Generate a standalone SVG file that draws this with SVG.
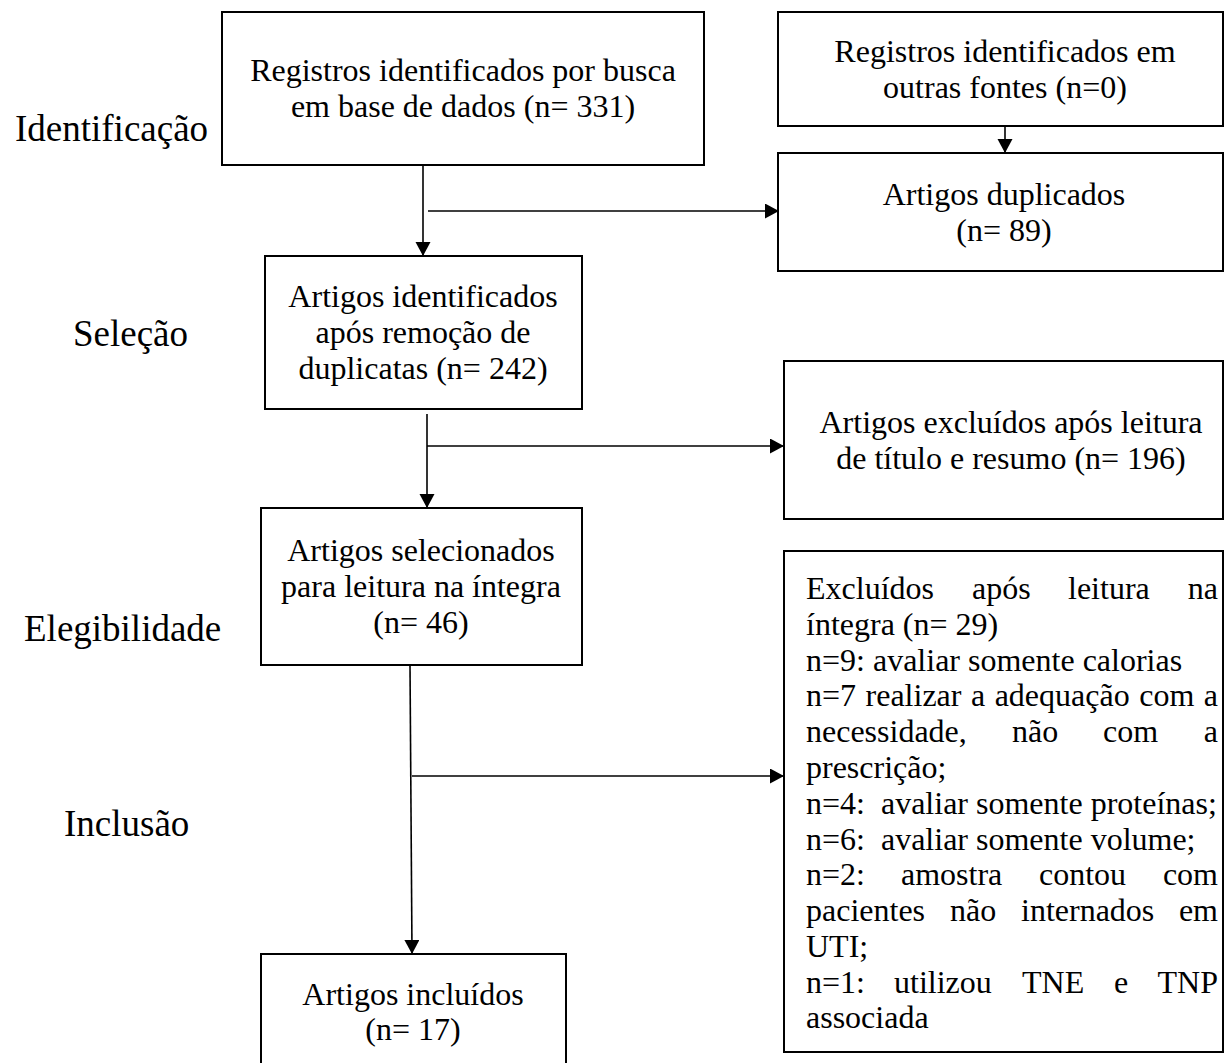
<svg xmlns="http://www.w3.org/2000/svg" width="1225" height="1063" viewBox="0 0 1225 1063">
<defs>
<marker id="ah" markerUnits="userSpaceOnUse" markerWidth="15" markerHeight="16" refX="14" refY="7.5" orient="auto">
<path d="M0,0 L14,7.5 L0,15 Z" fill="#000"/>
</marker>
<style>
.box{fill:#fff;stroke:#000;stroke-width:2}
.t{font-family:"Liberation Serif","Times New Roman",serif;font-size:32px;fill:#000}
.c{text-anchor:middle}
.e{text-anchor:end}
.lbl{font-family:"Liberation Serif","Times New Roman",serif;font-size:37px;fill:#000}
.con{fill:none;stroke:#000;stroke-width:1.6}
</style>
</defs>
<rect width="1225" height="1063" fill="#fff"/>
<g id="labels">
<text class="lbl" x="15" y="141">Identificação</text>
<text class="lbl" x="73" y="346">Seleção</text>
<text class="lbl" x="24" y="641">Elegibilidade</text>
<text class="lbl" x="64" y="836">Inclusão</text>
</g>
<g id="connectors">
<path class="con" d="M423,165 V256" marker-end="url(#ah)"/>
<path class="con" d="M428,211 H779" marker-end="url(#ah)"/>
<path class="con" d="M1005,126 V153" marker-end="url(#ah)"/>
<path class="con" d="M427,414 V508" marker-end="url(#ah)"/>
<path class="con" d="M427,446 H784" marker-end="url(#ah)"/>
<path class="con" d="M410,665 L412,954" marker-end="url(#ah)"/>
<path class="con" d="M412,776 H784" marker-end="url(#ah)"/>
</g>
<g id="n1">
<rect class="box" x="222" y="12" width="482" height="153"/>
<text class="t c" x="463" y="81">Registros identificados por busca</text>
<text class="t c" x="463" y="117">em base de dados (n= 331)</text>
</g>
<g id="n2">
<rect class="box" x="778" y="12" width="445" height="114"/>
<text class="t c" x="1005" y="62">Registros identificados em</text>
<text class="t c" x="1005" y="98">outras fontes (n=0)</text>
</g>
<g id="n3">
<rect class="box" x="778" y="153" width="445" height="118"/>
<text class="t c" x="1004" y="205">Artigos duplicados</text>
<text class="t c" x="1004" y="241">(n= 89)</text>
</g>
<g id="n4">
<rect class="box" x="265" y="256" width="317" height="153"/>
<text class="t c" x="423" y="307">Artigos identificados</text>
<text class="t c" x="423" y="343">após remoção de</text>
<text class="t c" x="423" y="379">duplicatas (n= 242)</text>
</g>
<g id="n5">
<rect class="box" x="784" y="361" width="439" height="158"/>
<text class="t c" x="1011" y="433">Artigos excluídos após leitura</text>
<text class="t c" x="1011" y="469">de título e resumo (n= 196)</text>
</g>
<g id="n6">
<rect class="box" x="261" y="508" width="321" height="157"/>
<text class="t c" x="421" y="561">Artigos selecionados</text>
<text class="t c" x="421" y="597">para leitura na íntegra</text>
<text class="t c" x="421" y="633">(n= 46)</text>
</g>
<g id="n7">
<rect class="box" x="784" y="551" width="439" height="501"/>
<text class="t" x="806" y="599">Excluídos</text>
<text class="t" x="972" y="599">após</text>
<text class="t" x="1068" y="599">leitura</text>
<text class="t e" x="1218" y="599">na</text>
<text class="t" x="806" y="635">íntegra (n= 29)</text>
<text class="t" x="806" y="671">n=9: avaliar somente calorias</text>
<text class="t" x="806" y="706" word-spacing="1.5">n=7 realizar a adequação com a</text>
<text class="t" x="806" y="742">necessidade,</text>
<text class="t" x="1012" y="742">não</text>
<text class="t" x="1103" y="742">com</text>
<text class="t e" x="1218" y="742">a</text>
<text class="t" x="806" y="778">prescrição;</text>
<text class="t" x="806" y="814" xml:space="preserve">n=4:  avaliar somente proteínas;</text>
<text class="t" x="806" y="850" xml:space="preserve">n=6:  avaliar somente volume;</text>
<text class="t" x="806" y="885">n=2:</text>
<text class="t" x="901" y="885">amostra</text>
<text class="t" x="1039" y="885">contou</text>
<text class="t e" x="1218" y="885">com</text>
<text class="t" x="806" y="921">pacientes</text>
<text class="t" x="950" y="921">não</text>
<text class="t" x="1021" y="921">internados</text>
<text class="t e" x="1218" y="921">em</text>
<text class="t" x="806" y="957">UTI;</text>
<text class="t" x="806" y="993">n=1:</text>
<text class="t" x="894" y="993">utilizou</text>
<text class="t" x="1022" y="993">TNE</text>
<text class="t" x="1114" y="993">e</text>
<text class="t e" x="1218" y="993">TNP</text>
<text class="t" x="806" y="1028">associada</text>
</g>
<g id="n8">
<rect class="box" x="261" y="954" width="305" height="125"/>
<text class="t c" x="413" y="1005">Artigos incluídos</text>
<text class="t c" x="413" y="1040">(n= 17)</text>
</g>
</svg>
